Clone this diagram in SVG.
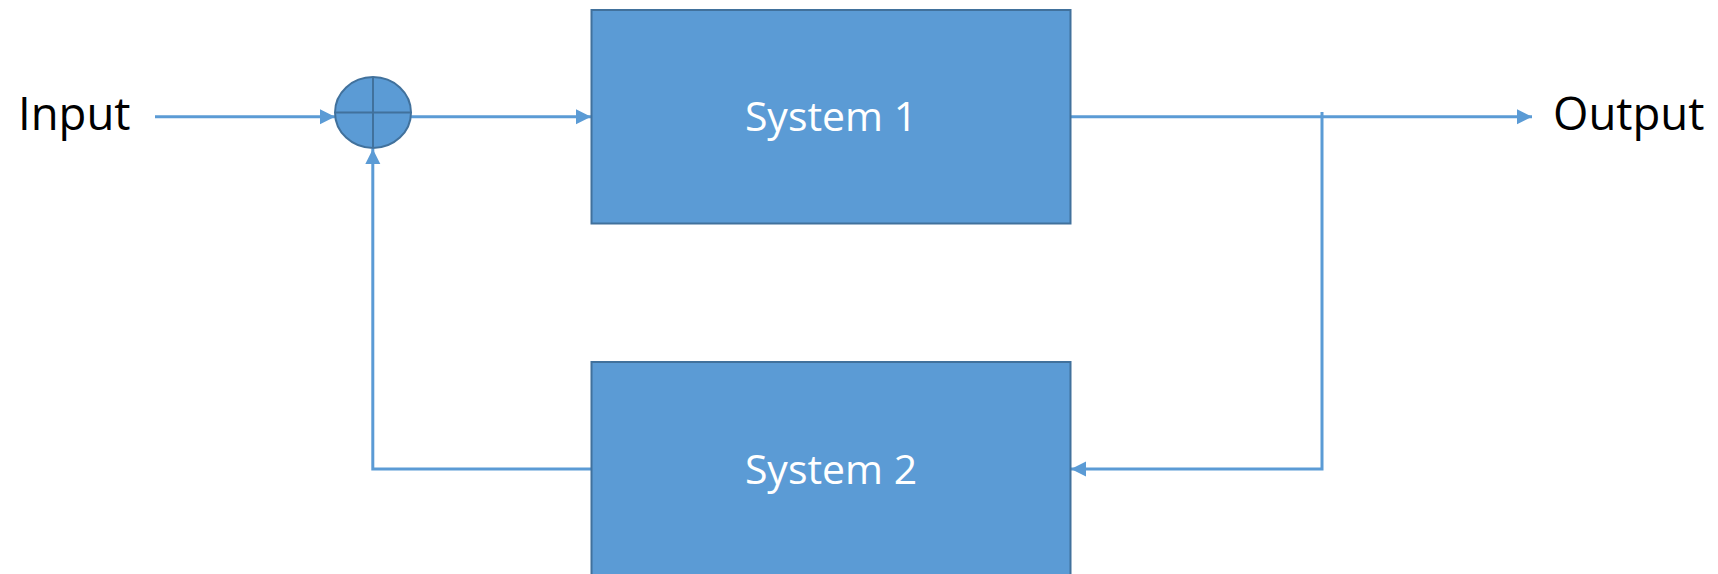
<svg xmlns="http://www.w3.org/2000/svg" width="1718" height="574" viewBox="0 0 1718 574">
  <style>
    .box { fill: #5B9BD5; stroke: #41719C; stroke-width: 2; }
    .conn { fill: none; stroke: #5B9BD5; stroke-width: 3; }
    .lbl { font-family: "Open Sans", "Liberation Sans", sans-serif; font-size: 45.5px; fill: #000000; }
    .boxlbl { font-family: "Open Sans", "Liberation Sans", sans-serif; font-size: 41px; fill: #FFFFFF; text-anchor: middle; }
  </style>
  <defs>
    <marker id="arrow" markerUnits="userSpaceOnUse" markerWidth="16" markerHeight="16" refX="15" refY="7.5" orient="auto">
      <path d="M0,0 L15,7.5 L0,15 z" fill="#5B9BD5"/>
    </marker>
  </defs>
  <rect width="1718" height="574" fill="#FFFFFF"/>

  <g id="connectors">
    <path class="conn" d="M155,116.7 L335,116.7" marker-end="url(#arrow)"/>
    <path class="conn" d="M411,116.7 L591,116.7" marker-end="url(#arrow)"/>
    <path class="conn" d="M1071,116.7 L1532,116.7" marker-end="url(#arrow)"/>
    <path class="conn" d="M1322,112 L1322,469 L1071,469" marker-end="url(#arrow)"/>
    <path class="conn" d="M591,469 L372.8,469 L372.8,149" marker-end="url(#arrow)"/>
  </g>

  <g id="input">
    <text class="lbl" x="18" y="130">Input</text>
  </g>

  <g id="sum">
    <ellipse class="box" cx="373" cy="112.5" rx="38" ry="35.5"/>
    <line x1="335" y1="112.5" x2="411" y2="112.5" stroke="#41719C" stroke-width="2"/>
    <line x1="373" y1="77" x2="373" y2="148" stroke="#41719C" stroke-width="2"/>
  </g>

  <g id="system1">
    <rect class="box" x="591.5" y="10" width="479" height="213.5"/>
    <text class="boxlbl" x="831" y="131">System 1</text>
  </g>

  <g id="system2">
    <rect class="box" x="591.5" y="362" width="479" height="213.5"/>
    <text class="boxlbl" x="831" y="484">System 2</text>
  </g>

  <g id="output">
    <text class="lbl" x="1553" y="130">Output</text>
  </g>
</svg>
